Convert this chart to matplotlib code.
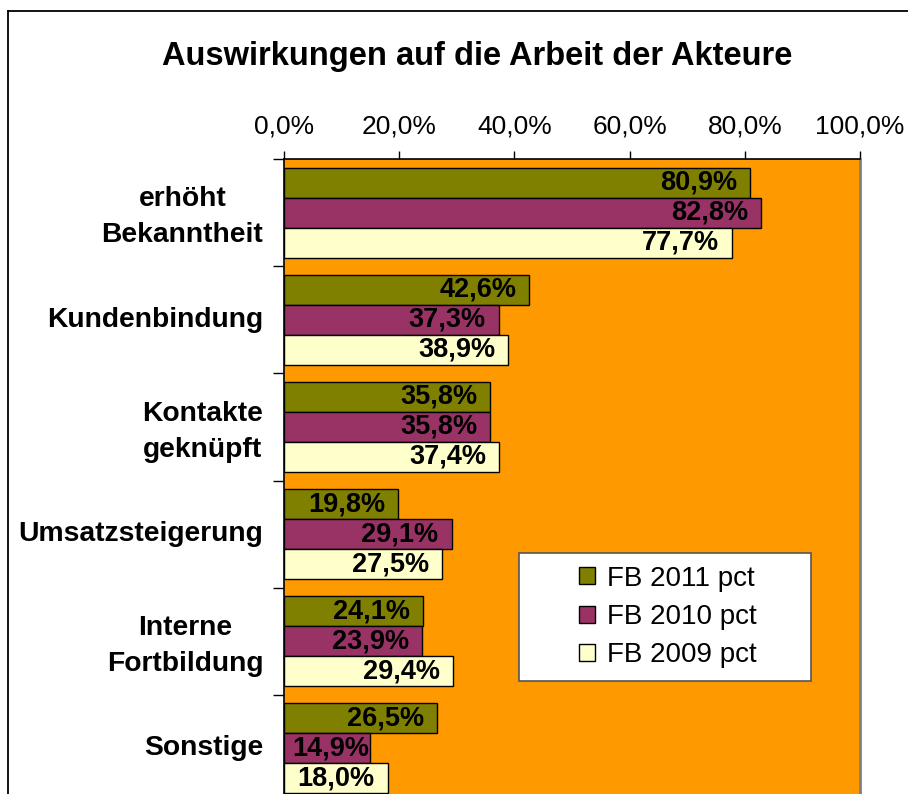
import numpy as np
import matplotlib
matplotlib.use("Agg")
import matplotlib.pyplot as plt
from matplotlib.patches import Rectangle
from matplotlib.lines import Line2D

plt.rcParams['font.family'] = ['Liberation Sans', 'DejaVu Sans']

categories = ["erhöht\nBekanntheit", "Kundenbindung", "Kontakte\ngeknüpft",
              "Umsatzsteigerung", "Interne\nFortbildung", "Sonstige"]
fb2011 = [80.9, 42.6, 35.8, 19.8, 24.1, 26.5]
fb2010 = [82.8, 37.3, 35.8, 29.1, 23.9, 14.9]
fb2009 = [77.7, 38.9, 37.4, 27.5, 29.4, 18.0]
series_names = ["FB 2011 pct", "FB 2010 pct", "FB 2009 pct"]
x_ticks = [0, 20, 40, 60, 80, 100]

colors = ["#808000", "#993366", "#FFFFCC"]
orange = "#FF9900"

W, H = 908, 794
fig = plt.figure(figsize=(W / 100, H / 100), dpi=100)

# outer chart border (only left/top visible, rest cropped)
fig.add_artist(Line2D([8 / W, 8 / W], [0, 1 - 11 / H], transform=fig.transFigure, color="black", lw=1.3))
fig.add_artist(Line2D([8 / W, 1], [1 - 11 / H, 1 - 11 / H], transform=fig.transFigure, color="black", lw=1.3))

left, right, top, bottom = 284, 860, 159, 802
ax = fig.add_axes([left / W, 1 - bottom / H, (right - left) / W, (bottom - top) / H])
ax.set_facecolor(orange)

n = len(categories)
y = np.arange(n)
bh = 0.28
fs = 19.5

def fmt(v):
    return ("%.1f%%" % v).replace(".", ",")

px = 100.0 / (right - left)  # data units per pixel
for k, vals in enumerate([fb2011, fb2010, fb2009]):
    pos = y + (k - 1) * bh
    ax.barh(pos, vals, height=bh, color=colors[k], edgecolor="black", linewidth=1.0,
            label=series_names[k], zorder=2)
    for p, v in zip(pos, vals):
        tw = 76 * px
        xr = v - 13 * px
        if xr - tw < 9 * px:
            xr = 9 * px + tw
        ax.text(xr, p, fmt(v), ha="right", va="center", fontsize=fs, fontweight="bold",
                color="black", zorder=3)

ax.set_xlim(0, 100)
ax.set_ylim(n - 0.5, -0.5)
ax.xaxis.tick_top()
ax.set_xticks(x_ticks)
ax.set_xticklabels([fmt(t) for t in x_ticks], fontsize=19)
ax.tick_params(axis="x", direction="out", length=6, width=1, pad=8.5, colors="black")
ax.set_yticks(np.arange(n + 1) - 0.5, minor=False)
ax.set_yticklabels([""] * (n + 1))
ax.tick_params(axis="y", direction="out", length=8, width=1)
ax.set_yticks(y - 0.03, minor=True)
ax.set_yticklabels(categories, minor=True, fontsize=20.3, fontweight="bold", multialignment="center",
                   linespacing=1.5)
ax.tick_params(axis="y", which="minor", length=0, pad=15)

for s in ["top", "left"]:
    ax.spines[s].set_color("black")
    ax.spines[s].set_linewidth(1.2)
ax.spines["right"].set_color("#808080")
ax.spines["right"].set_linewidth(2)
ax.spines["bottom"].set_visible(False)

# legend box
lx0, lx1, ly0, ly1 = 519, 811, 553, 681
box = Rectangle(((lx0 - left) / (right - left), 1 - (ly1 - top) / (bottom - top)),
                (lx1 - lx0) / (right - left), (ly1 - ly0) / (bottom - top),
                transform=ax.transAxes, facecolor="white", edgecolor="#555555", lw=1.2, zorder=4)
ax.add_patch(box)
leg = ax.legend(loc="center", bbox_to_anchor=(((lx0 + lx1) / 2 + 3 - left) / (right - left),
                                              1 - ((ly0 + ly1) / 2 - top) / (bottom - top)),
                fontsize=20, frameon=False, handlelength=0.55, handleheight=0.55, handletextpad=0.45,
                labelspacing=0.45, borderpad=0, borderaxespad=0)
leg.set_zorder(5)

fig.text(477 / W, 1 - 57 / H, "Auswirkungen auf die Arbeit der Akteure", ha="center", va="center",
         fontsize=23.5, fontweight="bold")

fig.savefig("out.png", dpi=100)
